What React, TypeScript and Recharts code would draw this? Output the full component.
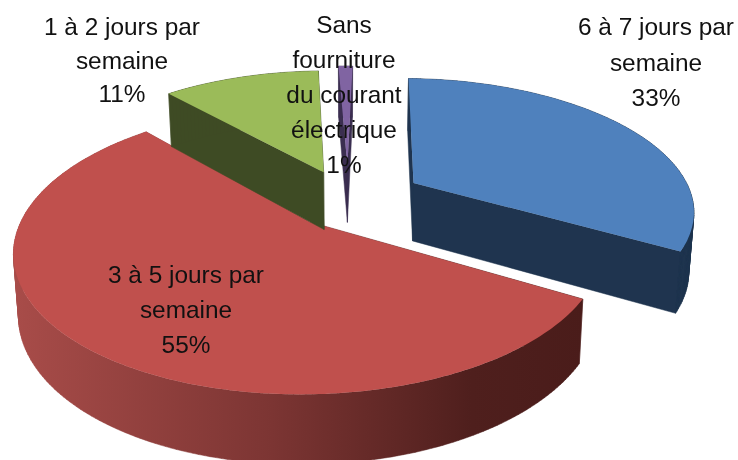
import { PieChart, Pie } from "recharts";

// ─── Data ───────────────────────────────────────────────────────────────────
const CATEGORIES = ["6 à 7 jours par semaine", "3 à 5 jours par semaine", "1 à 2 jours par semaine", "Sans fourniture du courant électrique"];
const VALUES = [33, 55, 11, 1];
const LABEL_LINES = [
  ["6 à 7 jours par", "semaine"],
  ["3 à 5 jours par", "semaine"],
  ["1 à 2 jours par", "semaine"],
  ["Sans", "fourniture", "du courant", "électrique"],
];

// ─── Styles ─────────────────────────────────────────────────────────────────
const TOP_COLORS = ["#4f81bd", "#c0504d", "#9bbb59", "#8064a2"];
const SIDE_COLORS = ["#1f344f", "url(#redSide)", "#3e4b24", "#3b2e50"];
const EXPLODE = [0.275, 0.21, 0.24, 0.28];
const LABEL_POS = [
  { x: 656, y: 35, dy: 35.5 },
  { x: 186, y: 283, dy: 35 },
  { x: 122, y: 35, dy: 33.5 },
  { x: 344, y: 33, dy: 35 },
];

const ROWS = CATEGORIES.map((name, i) => ({
  name,
  value: VALUES[i],
  fill: TOP_COLORS[i],
  side: SIDE_COLORS[i],
  explode: EXPLODE[i],
}));

// ─── Faux 3D ────────────────────────────────────────────────────────────────
const RATIO = 0.465; // flattening of the disc
const PERSP = 0.19; // front of the pie is nearer than the back
const BOTTOM_SHRINK = 0.985;
const rad = (d: number) => (d * Math.PI) / 180;
const depthAt = (s: number) => 20 + 39 * s;

function Slice3D(props: any) {
  const { cx, cy, outerRadius: R, startAngle, endAngle } = props;
  const row = props.payload ?? props;
  const from = 90 - startAngle;
  const to = 90 - endAngle;
  const mid = (from + to) / 2;
  const ox = Math.sin(rad(mid)) * row.explode;
  const oy = Math.cos(rad(mid)) * row.explode;

  const project = (u: number, v: number) => {
    const X = ox + u;
    const V = oy + v;
    const s = 1 / (1 + PERSP * V);
    return { x: cx + X * R * s, y: cy - V * R * RATIO * s, s };
  };

  const top = [project(0, 0)];
  for (let t = from; t < to; t += 1) top.push(project(Math.sin(rad(t)), Math.cos(rad(t))));
  top.push(project(Math.sin(rad(to)), Math.cos(rad(to))));
  const bottom = top.map((p) => ({ x: cx + (p.x - cx) * BOTTOM_SHRINK, y: p.y + depthAt(p.s) }));

  // all wall quads go in one path, wound the same way so nonzero fill leaves no seams
  const walls = top
    .map((p, i) => {
      const j = (i + 1) % top.length;
      const quad = [p, top[j], bottom[j], bottom[i]];
      let area = 0;
      quad.forEach((a, k) => {
        const b = quad[(k + 1) % 4];
        area += a.x * b.y - b.x * a.y;
      });
      const pts = area < 0 ? [...quad].reverse() : quad;
      return pts.map((c, k) => `${k ? "L" : "M"}${c.x.toFixed(1)} ${c.y.toFixed(1)}`).join(" ") + " Z";
    })
    .join(" ");
  const d = top.map((p, i) => `${i ? "L" : "M"}${p.x.toFixed(1)} ${p.y.toFixed(1)}`).join(" ") + " Z";
  return (
    <g>
      <path d={walls} fill={row.side} stroke={row.side} strokeWidth={0.5} />
      <path d={d} fill={row.fill} />
    </g>
  );
}

function SliceLabel(props: any) {
  const pos = LABEL_POS[props.index];
  const lines = [...LABEL_LINES[props.index], `${VALUES[props.index]}%`];
  return (
    <text textAnchor="middle" fontFamily="'Liberation Sans', Arial, sans-serif" fontSize={24.4} fill="#111">
      {lines.map((l, i) => (
        <tspan key={i} x={pos.x} y={pos.y + i * pos.dy}>
          {l}
        </tspan>
      ))}
    </text>
  );
}

export default function App() {
  return (
    <div style={{ position: "absolute", left: 0, top: 0, width: 738, height: 460, overflow: "hidden", background: "#fff", filter: "blur(0.6px)" }}>
      <PieChart width={738} height={460} margin={{ top: 0, right: 0, bottom: 0, left: 0 }}>
        <defs>
          <linearGradient id="redSide" gradientUnits="userSpaceOnUse" x1="15" y1="0" x2="585" y2="0">
            <stop offset="0" stopColor="#a84c49" />
            <stop offset="0.45" stopColor="#7c3533" />
            <stop offset="0.8" stopColor="#4f1f1d" />
            <stop offset="1" stopColor="#4a1c1a" />
          </linearGradient>
        </defs>
        <Pie
          data={ROWS}
          dataKey="value"
          nameKey="name"
          cx={348}
          cy={200}
          outerRadius={280}
          startAngle={88.7}
          endAngle={-271.3}
          stroke="none"
          shape={Slice3D}
          label={SliceLabel}
          labelLine={false}
          isAnimationActive={false}
        />
      </PieChart>
    </div>
  );
}
